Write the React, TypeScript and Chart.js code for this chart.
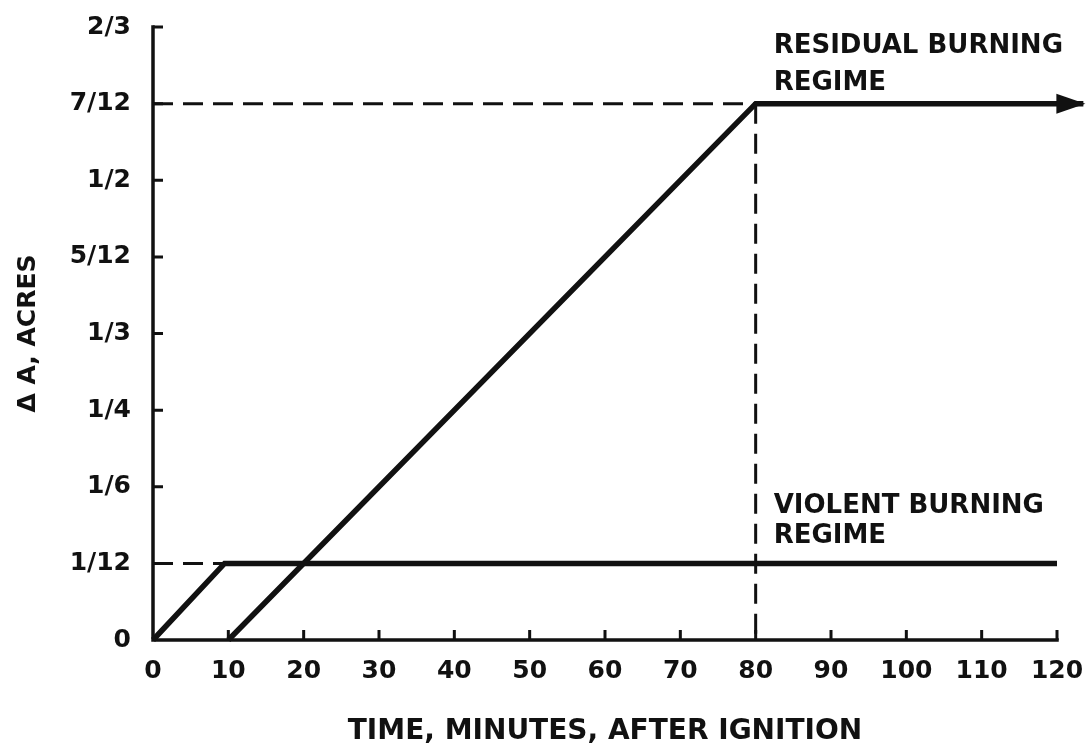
import React, { useEffect, useRef } from "react";
import { Chart, registerables } from "chart.js";

Chart.register(...registerables);

// ---- data ----
const xTickValues = [0, 10, 20, 30, 40, 50, 60, 70, 80, 90, 100, 110, 120];
const yTickValues = [0, 1 / 12, 2 / 12, 3 / 12, 4 / 12, 5 / 12, 6 / 12, 7 / 12, 8 / 12];
const yTickLabels = ["0", "1/12", "1/6", "1/4", "1/3", "5/12", "1/2", "7/12", "2/3"];

const violentX = [0, 9.5, 120];
const violentY = [0, 1 / 12, 1 / 12];
const residualX = [10, 80, 123.5];
const residualY = [0, 7 / 12, 7 / 12];

const guide712X = [0, 80];
const guide712Y = [7 / 12, 7 / 12];
const guide80X = [80, 80];
const guide80Y = [7 / 12, 0];
const guide112X = [0, 9.5];
const guide112Y = [1 / 12, 1 / 12];

const xTitle = "TIME, MINUTES, AFTER IGNITION";
const yTitle = "Δ A, ACRES";
const residualLabel = ["RESIDUAL BURNING", "REGIME"];
const violentLabel = ["VIOLENT BURNING", "REGIME"];

const INK = "#111111";
const FONT = '"DejaVu Sans", sans-serif';

const pts = (xs: number[], ys: number[]) => xs.map((v, i) => ({ x: v, y: ys[i] }));

const framePlugin = {
  id: "frame",
  beforeDatasetsDraw(chart: any) {
    const { ctx, scales } = chart;
    const x = scales.x, y = scales.y;
    const x0 = x.getPixelForValue(xTickValues[0]);
    const xEnd = x.getPixelForValue(xTickValues[xTickValues.length - 1]);
    const y0 = y.getPixelForValue(yTickValues[0]);
    const yTop = y.getPixelForValue(yTickValues[yTickValues.length - 1]);
    ctx.save();
    ctx.strokeStyle = INK;
    ctx.lineWidth = 3.5;
    ctx.lineCap = "square";
    ctx.beginPath();
    ctx.moveTo(x0, yTop);
    ctx.lineTo(x0, y0);
    ctx.lineTo(xEnd, y0);
    ctx.stroke();
    ctx.lineWidth = 3;
    ctx.lineCap = "butt";
    ctx.beginPath();
    for (const v of yTickValues.slice(1)) {
      const py = y.getPixelForValue(v);
      ctx.moveTo(x0, py);
      ctx.lineTo(x0 + 10, py);
    }
    for (const v of xTickValues.slice(1)) {
      const px = x.getPixelForValue(v);
      ctx.moveTo(px, y0);
      ctx.lineTo(px, y0 - 10);
    }
    ctx.stroke();
    ctx.restore();
  },
  afterDatasetsDraw(chart: any) {
    const { ctx, scales } = chart;
    const x = scales.x, y = scales.y;
    ctx.save();
    // arrow head on residual line
    const meta = chart.getDatasetMeta(1);
    const last = meta.data[meta.data.length - 1];
    ctx.fillStyle = INK;
    ctx.beginPath();
    ctx.moveTo(last.x + 2, last.y);
    ctx.lineTo(last.x - 27, last.y - 10);
    ctx.lineTo(last.x - 27, last.y + 10);
    ctx.closePath();
    ctx.fill();
    // regime labels
    ctx.font = `bold 26px ${FONT}`;
    ctx.textAlign = "left";
    ctx.textBaseline = "alphabetic";
    const ax = x.getPixelForValue(80) + 18;
    const ry = y.getPixelForValue(7 / 12);
    ctx.fillText(residualLabel[0], ax, ry - 51);
    ctx.fillText(residualLabel[1], ax, ry - 14);
    const vy = y.getPixelForValue(1 / 12);
    ctx.fillText(violentLabel[0], ax, vy - 50);
    ctx.fillText(violentLabel[1], ax, vy - 20);
    ctx.restore();
  },
};

export default function App() {
  const ref = useRef<HTMLCanvasElement | null>(null);

  useEffect(() => {
    if (!ref.current) return;
    const solid = { borderColor: INK, borderWidth: 5.5, pointRadius: 0, showLine: true, fill: false, tension: 0 };
    const dashed = { borderColor: INK, borderWidth: 3, borderDash: [20, 10], pointRadius: 0, showLine: true, fill: false, tension: 0 };
    const chart = new Chart(ref.current, {
      type: "scatter",
      data: {
        datasets: [
          { ...solid, data: pts(violentX, violentY), clip: false },
          { ...solid, data: pts(residualX, residualY), clip: false },
          { ...dashed, data: pts(guide712X, guide712Y) },
          { ...dashed, data: pts(guide80X, guide80Y) },
          { ...dashed, data: pts(guide112X, guide112Y) },
        ] as any,
      },
      options: {
        responsive: false,
        animation: false,
        events: [],
        layout: { padding: { top: 27, right: 30, left: 0, bottom: 0 } },
        plugins: { legend: { display: false }, tooltip: { enabled: false } },
        scales: {
          x: {
            type: "linear",
            min: 0,
            max: 120,
            afterFit: (s: any) => {
              s.height = 106;
              s.paddingLeft = 0;
              s.paddingRight = 0;
            },
            afterBuildTicks: (s: any) => { s.ticks = xTickValues.map((v) => ({ value: v })); },
            grid: { display: false, drawTicks: false },
            border: { display: false },
            ticks: {
              autoSkip: false,
              maxRotation: 0,
              padding: 16,
              color: INK,
              font: { family: FONT, size: 25, weight: "bold" },
              callback: (v: any) => String(v),
            },
            title: {
              display: true,
              text: xTitle,
              color: INK,
              font: { family: FONT, size: 28, weight: "bold" },
              padding: { top: 0, bottom: -3 },
            },
          },
          y: {
            type: "linear",
            min: 0,
            max: 8 / 12,
            afterFit: (s: any) => {
              s.width = 153;
              s.paddingTop = 0;
              s.paddingBottom = 0;
            },
            afterBuildTicks: (s: any) => { s.ticks = yTickValues.map((v) => ({ value: v })); },
            grid: { display: false, drawTicks: false },
            border: { display: false },
            ticks: {
              autoSkip: false,
              padding: 22,
              color: INK,
              font: { family: FONT, size: 25, weight: "bold" },
              callback: (_v: any, i: number) => yTickLabels[i],
            },
            title: {
              display: true,
              text: yTitle,
              color: INK,
              font: { family: FONT, size: 25, weight: "bold" },
              padding: { top: 13, bottom: 0 },
            },
          },
        },
      } as any,
      plugins: [framePlugin],
    });
    return () => chart.destroy();
  }, []);

  return (
    <div style={{ position: "fixed", left: 0, top: 0, width: 1087, height: 746, background: "#fff" }}>
      <canvas ref={ref} width={1087} height={746} style={{ display: "block" }} />
    </div>
  );
}
